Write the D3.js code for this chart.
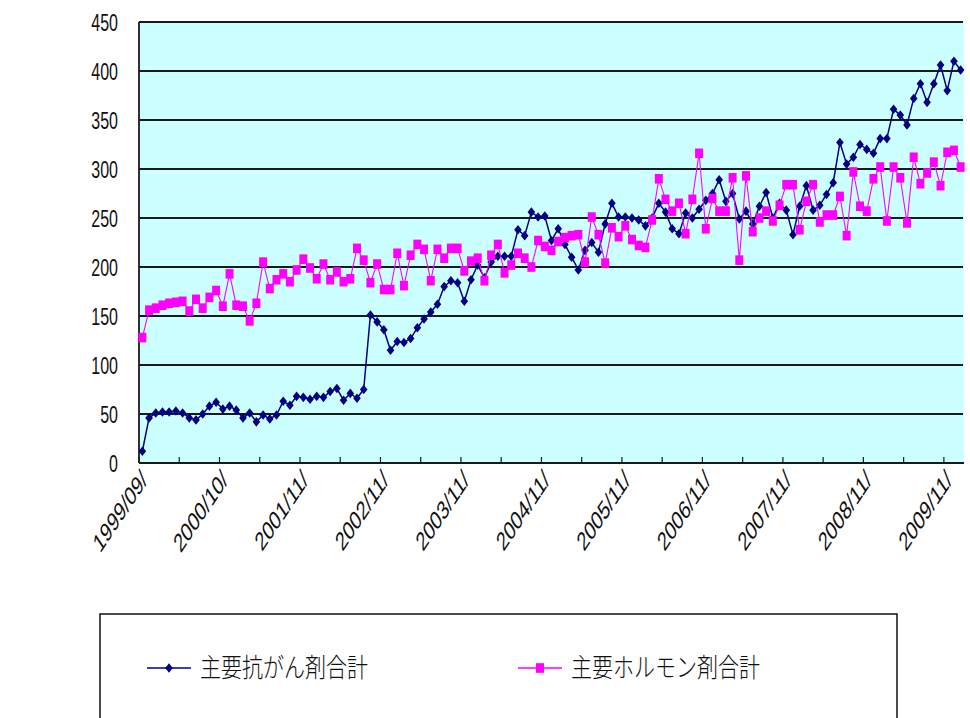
<!DOCTYPE html>
<html><head><meta charset="utf-8">
<script src="https://cdn.jsdelivr.net/npm/d3@7"></script>
<style>
body{margin:0;background:#fff;}
svg{display:block;}
</style></head><body>
<svg id="c" width="970" height="718"></svg>
<script>
// ---- data ----
const seriesNames = ["主要抗がん剤合計", "主要ホルモン剤合計"];
const xTickLabels = ["1999/09/","2000/10/","2001/11/","2002/11/","2003/11/","2004/11/","2005/11/","2006/11/","2007/11/","2008/11/","2009/11/"];
const yTicks = [0, 50, 100, 150, 200, 250, 300, 350, 400, 450];
const anticancer = [
  12,46,51,52,52,53,51,46,44,50,58,62,55,58,54,46,51,42,49,45,
  49,63,59,68,67,65,68,67,73,76,64,71,66,75,151,144,136,115,124,123,
  127,138,147,154,162,180,186,184,165,187,202,189,205,211,211,211,238,232,256,251,
  252,227,239,223,210,197,217,225,215,244,265,251,251,250,248,242,250,265,256,239,
  234,255,250,259,268,275,289,267,275,249,257,244,262,276,250,265,258,233,262,283,
  258,263,274,286,327,305,312,325,320,316,331,331,361,355,345,372,387,368,387,406,
  380,410,401
];
const hormone = [
  128,156,158,161,163,164,165,155,167,158,169,176,160,193,161,160,145,163,205,178,
  187,193,185,197,208,199,188,203,187,195,185,188,219,207,184,203,177,177,214,181,
  212,223,218,186,218,209,219,219,196,206,209,186,212,223,194,202,214,209,200,227,
  221,217,226,230,232,233,205,251,233,204,240,231,242,228,222,220,248,290,269,257,
  265,234,269,316,239,270,257,257,291,207,293,236,250,257,247,263,284,284,238,267,
  284,246,253,253,272,232,297,262,257,290,302,247,302,291,245,312,285,296,307,283,
  317,319,302
];

// ---- layout ----
const svg = d3.select("#c");
svg.append("rect").attr("width",970).attr("height",718).attr("fill","#fff");
const P = {left:139, right:964, top:22, bottom:463};
const n = anticancer.length;
const x = d3.scaleBand().domain(d3.range(n)).range([P.left, P.right]).padding(0);
const cx = i => x(i) + x.bandwidth()/2;
const y = d3.scaleLinear().domain([0, 450]).range([P.bottom, P.top]);
const SY = 1.5; // vertical stretch of the original image text

svg.append("rect").attr("x",P.left).attr("y",P.top)
  .attr("width",P.right-P.left).attr("height",P.bottom-P.top).attr("fill","#ccffff");

// gridlines
svg.append("g").selectAll("line").data(yTicks.filter(d=>d>0)).join("line")
  .attr("x1",P.left).attr("x2",P.right-1)
  .attr("y1",d=>y(d)).attr("y2",d=>y(d))
  .attr("stroke","#1a1a1a").attr("stroke-width",1.8);

// axes lines
svg.append("line").attr("x1",P.left).attr("x2",P.left).attr("y1",P.top).attr("y2",P.bottom)
  .attr("stroke","#1a1a1a").attr("stroke-width",1.8);
svg.append("line").attr("x1",P.left).attr("x2",P.right).attr("y1",P.bottom).attr("y2",P.bottom)
  .attr("stroke","#1a1a1a").attr("stroke-width",2);

// x tick marks every 6 categories (inside)
const tickIdx = d3.range(0, n, 6);
svg.append("g").selectAll("line").data(tickIdx).join("line")
  .attr("x1",d=>x(d)).attr("x2",d=>x(d))
  .attr("y1",P.bottom).attr("y2",P.bottom-6)
  .attr("stroke","#1a1a1a").attr("stroke-width",1.2);

// y labels
svg.append("g").selectAll("text").data(yTicks).join("text")
  .attr("transform",d=>`translate(118,${y(d)}) scale(1,${SY})`)
  .attr("text-anchor","end").attr("dy","0.36em")
  .attr("font-family","Liberation Sans, Arial, sans-serif").attr("font-size",16)
  .attr("fill","#111").text(d=>d);

// x labels
svg.append("g").selectAll("text").data(xTickLabels).join("text")
  .attr("transform",(d,j)=>`translate(${x(j*12)+5},${P.bottom+12}) scale(1,${SY}) rotate(-45)`)
  .attr("text-anchor","end").attr("dy","0.35em")
  .attr("font-family","Liberation Sans, Arial, sans-serif").attr("font-size",17.5)
  .attr("fill","#111").text(d=>d);

// series
const diamond = {draw(ctx, s){ const w=3.8, h=4.8; ctx.moveTo(0,-h); ctx.lineTo(w,0); ctx.lineTo(0,h); ctx.lineTo(-w,0); ctx.closePath(); }};
const square = {draw(ctx, s){ const w=4, h=4.8; ctx.rect(-w,-h,2*w,2*h); }};
const line = d3.line().x((d,i)=>cx(i)).y(d=>y(d));

const series = [
  {vals: anticancer, color:"#000080", lw:1.5, sym: diamond},
  {vals: hormone, color:"#ff00ff", lw:1.1, sym: square}
];
series.forEach(s=>{
  const g = svg.append("g");
  g.append("path").attr("d", line(s.vals)).attr("fill","none")
    .attr("stroke", s.color).attr("stroke-width", s.lw);
  g.selectAll("path.m").data(s.vals).join("path").attr("class","m")
    .attr("d", d3.symbol(s.sym))
    .attr("transform",(d,i)=>`translate(${cx(i)},${y(d)})`)
    .attr("fill", s.color);
});

// legend
const lg = svg.append("g");
lg.append("rect").attr("x",100).attr("y",614).attr("width",797).attr("height",140)
  .attr("fill","#fff").attr("stroke","#111").attr("stroke-width",1.5);
const legendItems = [
  {name: seriesNames[0], color:"#000080", sym: diamond, x0:147},
  {name: seriesNames[1], color:"#ff00ff", sym: square, x0:518}
];
legendItems.forEach(it=>{
  lg.append("line").attr("x1",it.x0).attr("x2",it.x0+44).attr("y1",668).attr("y2",668)
    .attr("stroke",it.color).attr("stroke-width",1.5);
  lg.append("path").attr("d", d3.symbol(it.sym)).attr("transform",`translate(${it.x0+22},668)`)
    .attr("fill",it.color);
  lg.append("text").attr("transform",`translate(${it.x0+53},668) scale(1,1.25)`)
    .attr("dy","0.36em").attr("font-family","Noto Sans CJK JP, sans-serif")
    .attr("font-size",21).attr("font-weight",300).attr("fill","#111").text(it.name);
});
</script>
</body></html>
